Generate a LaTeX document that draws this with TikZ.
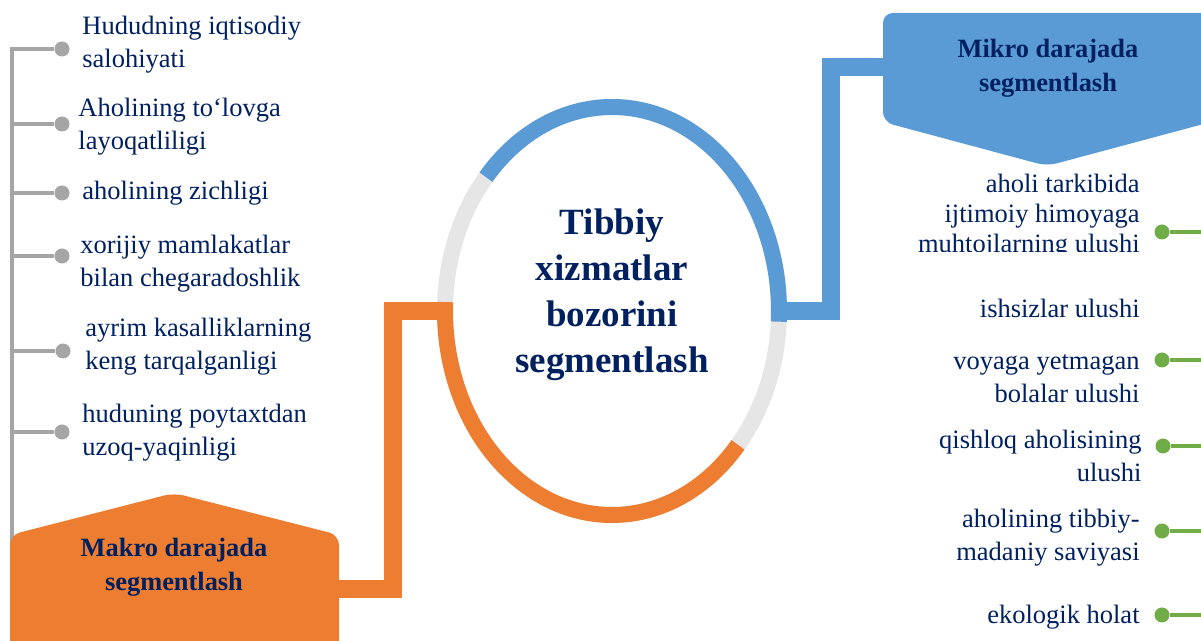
\documentclass[tikz,border=0pt]{standalone}
\usepackage{fontspec}
\setmainfont{Liberation Serif}
\usetikzlibrary{shapes.geometric, calc}
\definecolor{myblue}{HTML}{5B9BD5}
\definecolor{myorange}{HTML}{ED7D31}
\definecolor{mygray}{HTML}{A5A5A5}
\definecolor{myring}{HTML}{E7E6E6}
\definecolor{mygreen}{HTML}{70AD47}
\definecolor{mynavy}{HTML}{002060}

\begin{document}
\begin{tikzpicture}[x=0.5pt, y=-0.5pt,
    item/.style={text=mynavy, inner sep=0pt, font=\fontsize{13.25pt}{16.5pt}\selectfont},
    head/.style={text=mynavy, inner sep=0pt, align=center, font=\bfseries\fontsize{13.2pt}{17pt}\selectfont},
    grayline/.style={draw=mygray, line width=2pt},
    greenline/.style={draw=mygreen, line width=2pt},
    graydot/.style={circle, fill=mygray, inner sep=0pt, minimum size=7.5pt},
    greendot/.style={circle, fill=mygreen, inner sep=0pt, minimum size=7.5pt},
    ring/.style={line width=8pt},
    link/.style={line width=9pt, line join=miter}]

    \clip (0,0) rectangle (1201,641);

    % Markaz
    \node[ellipse, draw=myring, line width=8pt, minimum width=167pt, minimum height=204pt, inner sep=0pt] (hub) at (612,311) {};
    \draw[ring, myblue] ([shift={(139:83.5pt and 102pt)}]hub.center) arc[start angle=139, end angle=-3, x radius=83.5pt, y radius=102pt];
    \draw[ring, myorange] ([shift={(-41:83.5pt and 102pt)}]hub.center) arc[start angle=-41, end angle=-182.5, x radius=83.5pt, y radius=102pt];
    \node[text=mynavy, inner sep=0pt, align=center, font=\bfseries\fontsize{18.5pt}{23pt}\selectfont] (title) at (612,295) {Tibbiy\\xizmatlar\\bozorini\\segmentlash};

    % Ulanishlar
    \coordinate (bluebend) at (831,67);
    \coordinate (mikroin) at (895,67);
    \coordinate (orangebend) at (393,589);
    \coordinate (makroin) at (330,589);
    \draw[link, myblue] (hub.east) -| (bluebend) -- (mikroin);
    \draw[link, myorange] (hub.west) -| (orangebend) -- (makroin);

    % Mikro
    \fill[myblue, rounded corners=5pt] (1000,13) -- (1211,13) -- (1211,122) -- (1047,166) -- (883,122) -- (883,13) -- cycle;
    \node[head] (mikro) at (1048,68) {Mikro darajada\\segmentlash};

    % Makro
    \coordinate (spinebot) at (12,570);
    \node[graydot] (l1) at (62,49) {};
    \node[graydot] (l2) at (62,124) {};
    \node[graydot] (l3) at (62,193) {};
    \node[graydot] (l4) at (62,256) {};
    \node[graydot] (l5) at (63,351) {};
    \node[graydot] (l6) at (62,432) {};
    \draw[grayline, line join=miter] (l1) -| (spinebot);
    \draw[grayline] (l2) -- (l2 -| spinebot);
    \draw[grayline] (l3) -- (l3 -| spinebot);
    \draw[grayline] (l4) -- (l4 -| spinebot);
    \draw[grayline] (l5) -- (l5 -| spinebot);
    \draw[grayline] (l6) -- (l6 -| spinebot);
    \fill[myorange, rounded corners=5pt] (10,600) -- (10,535) -- (174,493) -- (339,535) -- (339,660) -- (10,660) -- cycle;
    \node[head] (makro) at (174,567) {Makro darajada\\segmentlash};

    \node[item, anchor=west, align=left] (t1) at (82,44.5) {Hududning iqtisodiy\\salohiyati};
    \node[item, anchor=west, align=left] (t2) at (78,126.5) {Aholining to‘lovga\\layoqatliligi};
    \node[item, anchor=west, align=left] (t3) at (82,193) {aholining zichligi};
    \node[item, anchor=west, align=left] (t4) at (80,264) {xorijiy mamlakatlar\\bilan chegaradoshlik};
    \node[item, anchor=west, align=left] (t5) at (85,347) {ayrim kasalliklarning\\keng tarqalganligi};
    \node[item, anchor=west, align=left] (t6) at (82,433) {huduning poytaxtdan\\uzoq-yaqinligi};

    % Mikro omillar
    \coordinate (rightedge) at (1210,0);
    \node[greendot] (r1) at (1162,232) {};
    \node[greendot] (r3) at (1162,360) {};
    \node[greendot] (r4) at (1163,446) {};
    \node[greendot] (r5) at (1162,531) {};
    \node[greendot] (r6) at (1162,615) {};
    \draw[greenline] (r1) -- (r1 -| rightedge);
    \draw[greenline] (r3) -- (r3 -| rightedge);
    \draw[greenline] (r4) -- (r4 -| rightedge);
    \draw[greenline] (r5) -- (r5 -| rightedge);
    \draw[greenline] (r6) -- (r6 -| rightedge);

    \begin{scope}
        \clip (880,150) rectangle (1150,252);
        \node[item, anchor=east, align=right, font=\fontsize{13.25pt}{15pt}\selectfont] (s1) at (1140,216) {aholi tarkibida\\ijtimoiy himoyaga\\muhtojlarning ulushi};
    \end{scope}
    \node[item, anchor=east, align=right] (s2) at (1140,308) {ishsizlar ulushi};
    \node[item, anchor=east, align=right] (s3) at (1140,379) {voyaga yetmagan\\bolalar ulushi};
    \node[item, anchor=east, align=right] (s4) at (1142,456) {qishloq aholisining\\ulushi};
    \node[item, anchor=east, align=right] (s5) at (1140,538) {aholining tibbiy-\\madaniy saviyasi};
    \node[item, anchor=east, align=right] (s6) at (1140,617) {ekologik holat};
\end{tikzpicture}
\end{document}
